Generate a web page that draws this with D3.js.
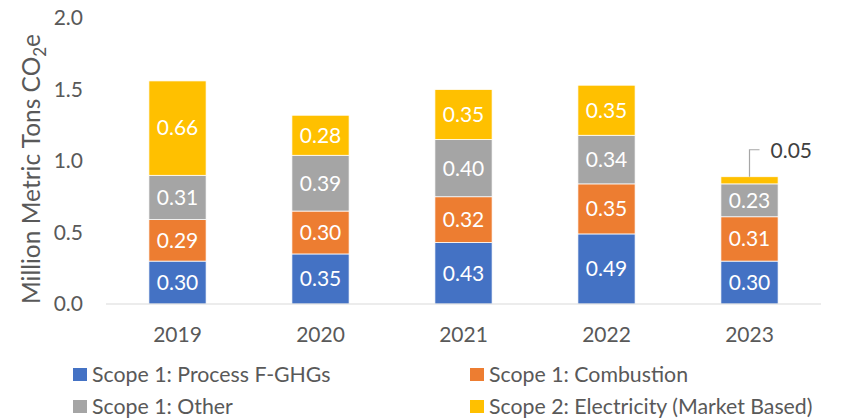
<!DOCTYPE html>
<html><head><meta charset="utf-8">
<script src="https://cdn.jsdelivr.net/npm/d3@7"></script>
<style>body{margin:0;background:#fff}svg{display:block}text{font-family:Lato,"Open Sans",sans-serif}</style>
</head><body>
<svg id="c" width="842" height="420"></svg>
<script>
const years = ["2019","2020","2021","2022","2023"];
const seriesNames = ["Scope 1: Process F-GHGs","Scope 1: Combustion","Scope 1: Other","Scope 2: Electricity (Market Based)"];
const processFGHGs = [0.30,0.35,0.43,0.49,0.30];
const combustion = [0.29,0.30,0.32,0.35,0.31];
const other = [0.31,0.39,0.40,0.34,0.23];
const electricity = [0.66,0.28,0.35,0.35,0.05];
const yTicks = [0,0.5,1.0,1.5,2.0];
const colors = ["#4472C4","#ED7D31","#A5A5A5","#FFC000"];

const svg = d3.select("#c");
const rows = years.map((y,i)=>({year:y, s0:processFGHGs[i], s1:combustion[i], s2:other[i], s3:electricity[i]}));
const keys = ["s0","s1","s2","s3"];
const stacked = d3.stack().keys(keys)(rows);

const x = d3.scaleBand().domain(years).range([106,821]).paddingInner(0.6).paddingOuter(0.3);
const y = d3.scaleLinear().domain([0,2]).range([304,18]);

// y tick labels
svg.append("g").selectAll("text").data(yTicks).join("text")
  .attr("x",83).attr("y",d=>y(d)).attr("dy","0.35em").attr("text-anchor","end")
  .attr("font-size",21).attr("fill","#595959").text(d=>d.toFixed(1));

// bars
const g = svg.append("g");
stacked.forEach((layer,k)=>{
  g.append("g").selectAll("rect").data(layer).join("rect")
    .attr("x",d=>x(d.data.year)).attr("width",x.bandwidth())
    .attr("y",d=>y(d[1])).attr("height",d=>y(d[0])-y(d[1]))
    .attr("fill",colors[k]).attr("stroke","#fff").attr("stroke-width",0.75);
  g.append("g").selectAll("text").data(layer.filter(d=>(d[1]-d[0])>=0.1)).join("text")
    .attr("x",d=>x(d.data.year)+x.bandwidth()/2).attr("y",d=>(y(d[0])+y(d[1]))/2)
    .attr("dy","0.35em").attr("text-anchor","middle").attr("font-size",21).attr("fill","#fff")
    .text(d=>(d[1]-d[0]).toFixed(2));
  layer.filter(d=>(d[1]-d[0])<0.1).forEach(d=>{
    const cx = x(d.data.year)+x.bandwidth()/2;
    const top = y(d[1]);
    const ly = top-27;
    g.append("path").attr("d",`M${cx},${top}V${ly}H${cx+10}`).attr("fill","none").attr("stroke","#a6a6a6").attr("stroke-width",1.2);
    g.append("text").attr("x",cx+21).attr("y",ly+1).attr("dy","0.35em").attr("font-size",21).attr("fill","#404040")
      .text((d[1]-d[0]).toFixed(2));
  });
});

// baseline
svg.append("line").attr("x1",106).attr("x2",821).attr("y1",y(0)).attr("y2",y(0)).attr("stroke","#d9d9d9").attr("stroke-width",1.2);

// x labels
svg.append("g").selectAll("text").data(years).join("text")
  .attr("x",d=>x(d)+x.bandwidth()/2).attr("y",335).attr("dy","0.35em").attr("text-anchor","middle")
  .attr("font-size",21).attr("fill","#595959").text(d=>d);

// y title
const yt = svg.append("text").attr("transform","translate(40,169) rotate(-90)").attr("text-anchor","middle")
  .attr("font-size",24.5).attr("fill","#595959");
yt.append("tspan").text("Million Metric Tons CO");
yt.append("tspan").attr("font-size",17).attr("dy",6).text("2");
yt.append("tspan").attr("dy",-6).text("e");

// legend
const legPos = [[73,375],[470,375],[73,407],[470,407]];
seriesNames.forEach((n,i)=>{
  const [lx,ly]=legPos[i];
  svg.append("rect").attr("x",lx).attr("y",ly-7).attr("width",14).attr("height",13).attr("fill",colors[i]);
  svg.append("text").attr("x",lx+19).attr("y",ly).attr("dy","0.35em").attr("font-size",21.3).attr("fill","#595959").text(n);
});
</script>
</body></html>
